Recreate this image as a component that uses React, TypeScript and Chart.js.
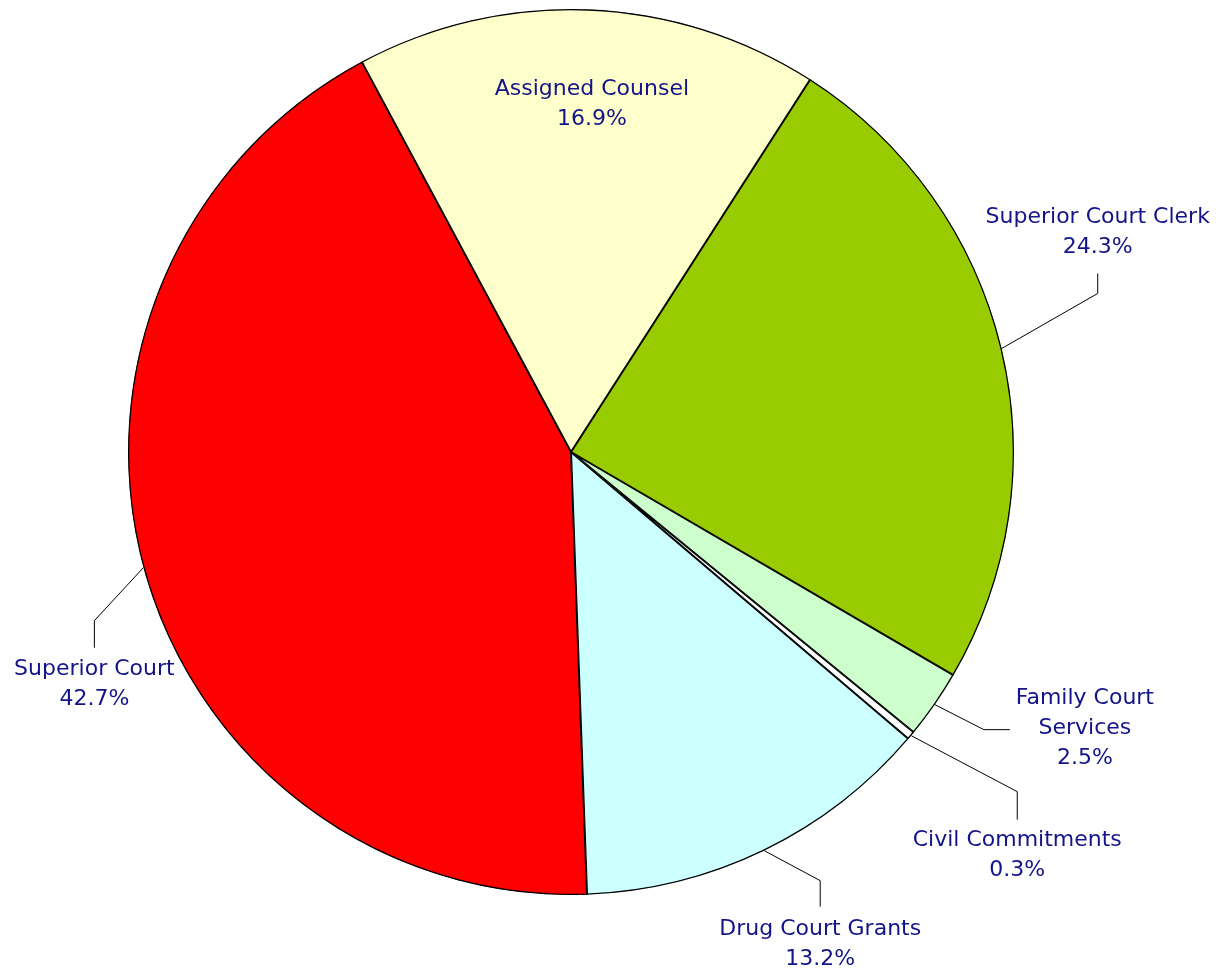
import React, { useEffect, useRef } from "react";
import { Chart, registerables } from "chart.js";

Chart.register(...registerables);

const categories = [
  "Assigned Counsel",
  "Superior Court Clerk",
  "Family Court Services",
  "Civil Commitments",
  "Drug Court Grants",
  "Superior Court",
];
const labelLines: string[][] = [
  ["Assigned Counsel"],
  ["Superior Court Clerk"],
  ["Family Court", "Services"],
  ["Civil Commitments"],
  ["Drug Court Grants"],
  ["Superior Court"],
];
const percentValues = [16.9, 24.3, 2.5, 0.3, 13.2, 42.7];
const sliceColors = ["#FFFFCC", "#99CC00", "#CCFFCC", "#FFFFFF", "#CCFFFF", "#FF0000"];

type LabelLayout =
  | { kind: "inside"; radiusFraction: number; dx: number; dy: number }
  | { kind: "outside"; elbow: [number, number]; tail: [number, number]; text: [number, number] };

const labelLayouts: LabelLayout[] = [
  { kind: "inside", radiusFraction: 0.8, dx: 7, dy: -9 },
  { kind: "outside", elbow: [96, -55], tail: [0, -20], text: [0, -56] },
  { kind: "outside", elbow: [49, 25], tail: [26, 0], text: [75, -31] },
  { kind: "outside", elbow: [106, 56], tail: [0, 28], text: [0, 21] },
  { kind: "outside", elbow: [56, 30], tail: [0, 26], text: [0, 23] },
  { kind: "outside", elbow: [-49, 53], tail: [0, 27], text: [0, 22] },
];

const TEXT_COLOR = "#14148a";
const FONT = "22px 'DejaVu Sans'";
const LINE_GAP = 30;

const labelPlugin = {
  id: "pieLabels",
  afterDraw(chart: any) {
    const ctx = chart.ctx as CanvasRenderingContext2D;
    const meta = chart.getDatasetMeta(0);
    ctx.save();
    ctx.font = FONT;
    ctx.textAlign = "center";
    ctx.textBaseline = "middle";
    meta.data.forEach((arc: any, i: number) => {
      const mid = (arc.startAngle + arc.endAngle) / 2;
      const r = arc.outerRadius;
      const lay = labelLayouts[i];
      const lines = [...labelLines[i], percentValues[i].toFixed(1) + "%"];
      let tx = 0;
      let ty = 0;
      if (lay.kind === "inside") {
        tx = arc.x + Math.cos(mid) * r * lay.radiusFraction + lay.dx;
        ty = arc.y + Math.sin(mid) * r * lay.radiusFraction + lay.dy;
      } else {
        const ex = arc.x + Math.cos(mid) * r;
        const ey = arc.y + Math.sin(mid) * r;
        const bx = ex + lay.elbow[0];
        const by = ey + lay.elbow[1];
        const cx = bx + lay.tail[0];
        const cy = by + lay.tail[1];
        ctx.strokeStyle = "#000000";
        ctx.lineWidth = 1;
        ctx.beginPath();
        ctx.moveTo(ex, ey);
        ctx.lineTo(bx, by);
        ctx.lineTo(cx, cy);
        ctx.stroke();
        tx = cx + lay.text[0];
        ty = cy + lay.text[1];
      }
      ctx.fillStyle = TEXT_COLOR;
      lines.forEach((ln, k) => {
        ctx.fillText(ln, tx, ty + k * LINE_GAP);
      });
    });
    ctx.restore();
  },
};

export default function App() {
  const canvasRef = useRef<HTMLCanvasElement | null>(null);

  useEffect(() => {
    document.body.style.margin = "0";
    document.body.style.background = "#ffffff";
    const canvas = canvasRef.current;
    if (!canvas) return;
    const chart = new Chart(canvas, {
      type: "pie",
      data: {
        labels: categories,
        datasets: [
          {
            data: percentValues,
            backgroundColor: sliceColors,
            borderColor: "#000000",
            borderWidth: 1,
            borderAlign: "inner" as any,
          },
        ],
      },
      options: {
        responsive: false,
        animation: false,
        rotation: -28.2,
        radius: 443,
        layout: { padding: { left: 0, right: 87, top: 0, bottom: 70 } },
        plugins: {
          legend: { display: false },
          tooltip: { enabled: false },
        },
      },
      plugins: [labelPlugin],
    });
    return () => chart.destroy();
  }, []);

  return (
    <div style={{ width: 1229, height: 974, background: "#ffffff" }}>
      <canvas ref={canvasRef} width={1229} height={974} style={{ display: "block" }} />
    </div>
  );
}
